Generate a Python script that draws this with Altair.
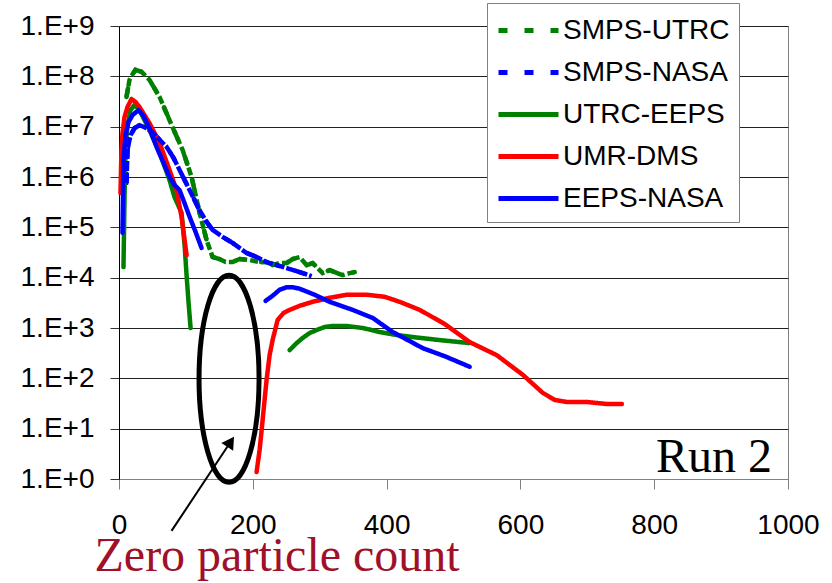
import altair as alt
import pandas as pd

# ---- data (x = particle size, y given as log10 of concentration) ----
series_names = ["SMPS-UTRC", "SMPS-NASA", "UTRC-EEPS", "UMR-DMS", "EEPS-NASA"]
series_colors = ["#008000", "#0000FF", "#008000", "#FF0000", "#0000FF"]

smps_utrc_x = [11.2, 15.7, 18.7, 24.7, 33.7, 45.6, 60.6, 80.0, 95.0, 108.5, 120.4, 130.9, 139.9,
               150.3, 159.3, 169.8, 180.3, 195.2, 210.2, 220.6, 229.6, 240.1, 250.5, 259.5, 270.0,
               280.5, 289.5, 304.4, 314.9, 322.4, 334.3, 344.8, 352.3]
smps_utrc_e = [7.59, 7.93, 8.01, 8.13, 8.09, 7.93, 7.59, 6.99, 6.54, 6.00, 5.29, 4.75, 4.41,
               4.37, 4.31, 4.31, 4.37, 4.35, 4.31, 4.31, 4.25, 4.29, 4.29, 4.37, 4.41,
               4.25, 4.29, 4.09, 4.15, 4.11, 4.05, 4.09, 4.11]

smps_nasa_x = [11.2, 12.7, 17.2, 23.2, 30.7, 38.1, 50.1, 60.6, 71.1, 81.5, 90.5, 105.5, 120.4,
               130.9, 139.9, 154.8, 169.8, 190.7, 205.7, 220.6, 235.6, 250.5, 270.0, 288.0]
smps_nasa_e = [5.88, 6.54, 6.83, 6.97, 7.03, 6.99, 6.89, 6.74, 6.60, 6.38, 6.14, 5.74, 5.34,
               5.11, 4.95, 4.81, 4.69, 4.49, 4.41, 4.31, 4.25, 4.19, 4.11, 4.03]

utrc_eeps1_x = [6.7, 8.2, 9.7, 12.7, 17.2, 23.2, 30.7, 45.6, 60.6, 75.5, 83.0, 93.5, 98.0, 101.0, 104.0, 107.0]
utrc_eeps1_e = [4.21, 5.54, 6.54, 7.03, 7.33, 7.43, 7.33, 6.93, 6.48, 5.94, 5.60, 5.29, 4.65, 4.05, 3.50, 3.00]
utrc_eeps2_x = [255.0, 265.5, 274.4, 284.9, 295.4, 307.4, 319.4, 340.4, 364.3, 389.7, 415.2, 439.1, 479.4, 524.2]
utrc_eeps2_e = [2.56, 2.70, 2.80, 2.90, 2.96, 3.02, 3.04, 3.04, 3.00, 2.92, 2.86, 2.82, 2.76, 2.70]

umr_dms1_x = [2.2, 3.7, 5.2, 8.2, 12.7, 18.7, 24.7, 30.7, 45.6, 60.6, 75.5, 86.0, 93.5, 101.0]
umr_dms1_e = [5.68, 6.54, 6.87, 7.19, 7.39, 7.55, 7.49, 7.39, 7.07, 6.68, 6.14, 5.74, 5.21, 4.45]
umr_dms2_x = [205.7, 210.2, 213.2, 217.6, 220.6, 225.1, 229.6, 237.1, 246.1, 255.0, 270.0, 289.5,
              314.9, 340.4, 370.3, 397.2, 419.6, 449.5, 486.8, 524.2, 564.7, 603.6, 633.5, 651.5,
              669.4, 699.3, 729.2, 751.7]
umr_dms2_e = [0.14, 0.58, 0.97, 1.57, 1.97, 2.46, 2.76, 3.16, 3.30, 3.36, 3.44, 3.52,
              3.60, 3.66, 3.66, 3.62, 3.52, 3.36, 3.08, 2.72, 2.46, 2.07, 1.71, 1.57,
              1.53, 1.53, 1.49, 1.49]

eeps_nasa1_x = [5.2, 6.7, 9.7, 14.2, 20.2, 29.2, 36.6, 45.6, 56.1, 66.6, 75.5, 83.0, 90.5, 98.0, 105.5, 114.4, 123.4]
eeps_nasa1_e = [4.89, 6.34, 6.83, 7.09, 7.23, 7.33, 7.21, 6.97, 6.60, 6.28, 6.00, 5.84, 5.74, 5.48, 5.21, 4.91, 4.59]
eeps_nasa2_x = [219.1, 229.6, 240.1, 250.5, 259.5, 270.0, 292.5, 314.9, 349.3, 379.2, 409.1, 434.5, 453.9, 486.8, 524.2]
eeps_nasa2_e = [3.54, 3.64, 3.76, 3.81, 3.81, 3.78, 3.66, 3.52, 3.36, 3.20, 2.92, 2.74, 2.60, 2.44, 2.23]

segments = [
    ("SMPS-UTRC", "a", smps_utrc_x, smps_utrc_e),
    ("SMPS-NASA", "a", smps_nasa_x, smps_nasa_e),
    ("UTRC-EEPS", "a", utrc_eeps1_x, utrc_eeps1_e),
    ("UTRC-EEPS", "b", utrc_eeps2_x, utrc_eeps2_e),
    ("UMR-DMS", "a", umr_dms1_x, umr_dms1_e),
    ("UMR-DMS", "b", umr_dms2_x, umr_dms2_e),
    ("EEPS-NASA", "a", eeps_nasa1_x, eeps_nasa1_e),
    ("EEPS-NASA", "b", eeps_nasa2_x, eeps_nasa2_e),
]

y_ticks = [1, 10, 100, 1e3, 1e4, 1e5, 1e6, 1e7, 1e8, 1e9]
x_ticks = [0, 200, 400, 600, 800, 1000]

# annotation anchors (data coordinates)
ellipse_center = (164.5, 97.7)
arrow_tail = (78.5, 0.093)
arrow_head = (166.9, 5.48)
zero_text_pos = (-36.6, 0.0150)
run_text_pos = (976.0, 1.377)

rows = []
for name, seg, xs, es in segments:
    for xv, ev in zip(xs, es):
        rows.append({"series": name, "seg": name + seg, "x": xv, "y": 10 ** ev})
df = pd.DataFrame(rows)

xscale = alt.Scale(domain=[0, 1000], nice=False)
yscale = alt.Scale(type="log", domain=[1, 1e9], nice=False)

xaxis = alt.Axis(values=x_ticks, grid=False, format="d", labelFont="Liberation Sans", labelFontSize=28,
                 labelColor="black", tickSize=10, tickColor="#808080", domainColor="#808080",
                 labelPadding=22, title=None, labelFlush=False)
yaxis = alt.Axis(values=y_ticks, grid=True, gridColor="#222222", gridWidth=1,
                 labelExpr="'1.E+' + round(log(datum.value)/LN10)",
                 labelFont="Liberation Sans", labelFontSize=28, labelColor="black",
                 tickSize=9, tickColor="#333333", domainColor="black", labelPadding=16,
                 title=None, labelFlush=False)

lines = alt.Chart(df).mark_line(strokeWidth=4.5, strokeCap="round", strokeJoin="round").encode(
    x=alt.X("x:Q", scale=xscale, axis=xaxis),
    y=alt.Y("y:Q", scale=yscale, axis=yaxis),
    color=alt.Color("series:N", sort=series_names,
                    scale=alt.Scale(domain=series_names, range=series_colors),
                    legend=alt.Legend(title=None, orient="none", legendX=368, legendY=-23,
                                      symbolType="M -1 0 L 2.75 0", symbolStrokeWidth=5, symbolSize=1024,
                                      labelFont="Liberation Sans", labelFontSize=28, labelLimit=0,
                                      labelColor="black", labelOffset=30, padding=9,
                                      rowPadding=9, strokeColor="#808080", fillColor="white")),
    strokeDash=alt.StrokeDash("series:N", sort=series_names,
                              scale=alt.Scale(domain=series_names,
                                              range=[[9, 17], [9, 17], [1, 0], [1, 0], [1, 0]])),
    detail="seg:N",
)

# dense, nearly solid look of the measured SMPS traces
overlay_utrc = alt.Chart(df[df.series == "SMPS-UTRC"]).mark_line(
    strokeWidth=4.5, color="#008000", strokeDash=[8, 3]).encode(x="x:Q", y="y:Q")
overlay_nasa = alt.Chart(df[df.series == "SMPS-NASA"]).mark_line(
    strokeWidth=4.5, color="#0000FF", strokeDash=[10, 2]).encode(x="x:Q", y="y:Q")

ell_path = "M -0.29 0 A 0.29 1 0 1 1 0.29 0 A 0.29 1 0 1 1 -0.29 0 Z"
ellipse = alt.Chart(pd.DataFrame({"x": [ellipse_center[0]], "y": [ellipse_center[1]]})).mark_point(
    shape=ell_path, size=42849, filled=False, color="black", strokeWidth=5, opacity=1
).encode(x="x:Q", y="y:Q")

arrow_df = pd.DataFrame({"x": [arrow_tail[0], arrow_head[0]], "y": [arrow_tail[1], arrow_head[1]]})
arrow_line = alt.Chart(arrow_df).mark_line(color="black", strokeWidth=2).encode(x="x:Q", y="y:Q")
arrow_tip = alt.Chart(pd.DataFrame({"x": [arrow_head[0]], "y": [arrow_head[1]]})).mark_point(
    shape="triangle-up", filled=True, color="black", size=200, angle=33.5, opacity=1
).encode(x="x:Q", y="y:Q")

zero_text = alt.Chart(pd.DataFrame({"x": [zero_text_pos[0]], "y": [zero_text_pos[1]],
                                    "t": ["Zero particle count"]})).mark_text(
    font="Liberation Serif", fontSize=48, color="#A0102A", align="left", baseline="alphabetic"
).encode(x="x:Q", y="y:Q", text="t:N")

run_text = alt.Chart(pd.DataFrame({"x": [run_text_pos[0]], "y": [run_text_pos[1]],
                                   "t": ["Run 2"]})).mark_text(
    font="Liberation Serif", fontSize=48, color="black", align="right", baseline="alphabetic"
).encode(x="x:Q", y="y:Q", text="t:N")

chart = alt.layer(lines, overlay_utrc, overlay_nasa, ellipse, arrow_line, arrow_tip,
                  zero_text, run_text).properties(
    width=669, height=453,
    autosize=alt.AutoSizeParams(type="none"),
    padding={"left": 119, "top": 26, "right": 44, "bottom": 104},
    background="white",
).configure_view(stroke="#808080", strokeWidth=1)

chart.save("out.html", embed_options={"renderer": "svg", "actions": False})
